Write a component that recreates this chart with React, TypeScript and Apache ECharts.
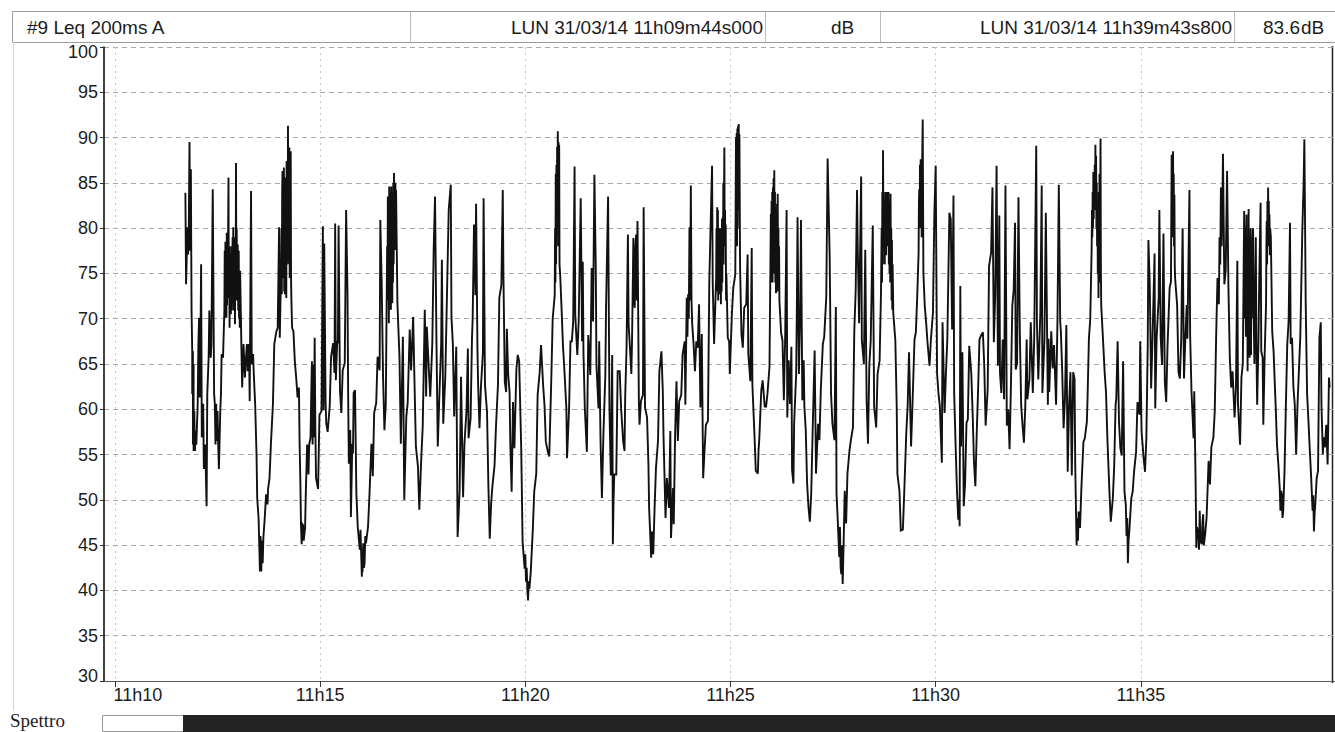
import React, { useEffect, useRef } from "react";
import * as echarts from "echarts";

// Leq 200 ms, A-weighted. Each entry: [seconds since 11:00:00, level in dB]
const seg1111: [number, number][] = [
  [703, 83.9], [704, 73.8], [706, 80.1], [707, 77.1], [708, 80.1], [709, 89.5], [710, 77.5], [711, 86.5], [712, 70.9], [713, 66.4],
  [713, 61.7], [714, 66.4], [714, 56.1], [715, 65.0], [715, 55.4], [716, 59.8], [717, 55.4], [718, 57.6], [719, 56.1], [721, 60.6],
  [722, 67.2], [723, 70.1], [724, 61.3], [725, 67.2], [726, 76.0], [727, 56.9], [729, 60.6], [730, 53.4], [732, 56.1], [734, 49.3],
  [735, 61.7], [737, 65.7], [738, 70.9], [740, 65.7], [741, 67.2], [743, 84.3], [745, 61.7], [746, 60.6], [747, 56.1], [748, 60.6],
  [749, 56.5], [750, 59.8], [751, 56.1], [752, 53.4], [754, 59.8], [755, 61.7], [756, 66.1], [758, 65.7],
  [760, 70.9], [760.5, 77.5], [761, 70.1], [761.5, 78.5], [762, 72.0], [762.5, 76.4], [763, 70.1], [763.5, 79.5], [764, 71.5], [764.5, 76.4],
  [765, 72.3], [765.5, 80.0], [766, 85.6], [766.5, 73.0], [767, 78.0], [767.6, 69.0], [768, 77.0], [768.6, 72.0], [769, 76.4], [769.5, 70.5],
  [770, 78.0], [770.5, 70.9], [771, 76.4], [771.5, 71.6], [772, 79.0], [772.5, 72.0], [773, 80.1], [773.5, 70.9], [774, 77.0], [774.5, 71.0],
  [775, 79.0], [775.5, 69.4], [776, 78.2], [776.5, 72.0], [777, 87.2], [777.5, 74.0], [778, 80.0], [778.8, 72.0], [779.5, 78.2], [780.3, 70.9],
  [781, 77.5], [781.5, 70.0], [782, 74.0], [782.5, 69.0], [783, 75.3],
  [785, 66.4], [786, 62.4], [788, 67.2], [790, 63.5], [791, 65.0], [793, 67.2], [794, 64.2], [796, 67.2], [797, 60.9],
  [799, 84.1], [800, 65.0], [802, 66.1], [803, 63.9], [805, 60.6], [807, 55.0], [808, 50.2], [810, 48.0], [811, 45.1], [812, 42.1],
  [812.5, 46.0], [813, 45.8], [813.5, 42.5], [814, 42.1], [814.5, 45.5], [815, 45.1], [816, 43.0], [817, 45.8], [819, 48.0], [821, 50.6],
  [823, 49.5], [824, 51.3], [826, 52.4], [828, 56.1],
  [831, 60.6], [833, 67.2], [836, 68.6], [838, 69.0], [840, 80.1], [841, 67.9],
  [843, 75.6], [843.5, 80.0], [844, 72.7], [844.5, 84.0], [845, 86.3], [845.5, 75.0], [846, 84.5], [846.5, 74.5], [847, 86.7], [847.5, 73.0],
  [848, 83.0], [848.5, 72.7], [849, 85.6], [849.5, 74.0], [850, 82.0], [850.5, 72.3], [851, 87.4], [851.5, 76.0], [852, 84.0], [852.5, 76.4],
  [853, 91.3], [853.5, 78.2], [854, 87.0], [854.5, 76.0], [855, 88.9], [855.5, 74.5], [856, 86.0], [856.5, 75.0], [857, 88.5], [857.5, 74.2],
  [858, 72.0], [859, 69.0], [861, 68.6], [863, 65.3], [865, 63.5], [867, 61.3], [869, 62.4], [870, 56.1], [871, 52.4],
  [872, 47.3], [873, 45.1], [873.5, 47.5], [874, 45.5], [875, 47.3], [876, 45.5], [878, 46.9], [879, 50.6], [881, 56.1], [883, 52.8], [884, 56.1], [886, 56.9],
  [887, 61.7], [888, 65.3], [889, 56.1], [890, 64.9], [891, 56.9], [892, 67.9], [893, 58.0], [894, 52.4], [897, 51.2], [899, 59.4],
  [902, 59.8],
];

const seg1115: [number, number][] = [
  [904, 80.2], [905, 59.9], [906, 78.3], [908, 60.7], [909, 58.4], [911, 57.5], [914, 60.3], [916, 65.8], [919, 67.3], [921, 64.0],
  [922, 80.5], [923, 63.2], [925, 67.6], [926, 67.3], [927, 80.3], [929, 62.1], [931, 59.6], [933, 64.3], [936, 65.1], [938, 82.0],
  [940, 72.8], [941, 61.4], [942, 54.0], [944, 57.7], [945, 48.1], [947, 56.2], [948, 55.1], [949, 61.8], [951, 62.1], [953, 50.7],
  [955, 47.0], [958, 44.5], [959, 46.7], [961, 41.5], [961.5, 44.5], [962, 42.0], [963, 45.2], [964, 42.5], [965, 43.0], [966, 46.0], [967, 45.2], [970, 47.0], [972, 50.3], [975, 56.2],
  [977, 52.6], [979, 59.6], [982, 60.7], [984, 65.8], [987, 64.3], [988, 80.9], [990, 73.9], [992, 63.6], [994, 57.7], [996, 60.7],
  [997, 69.5], [998, 78.0], [998.5, 72.0], [999, 83.5], [999.5, 72.0], [1000, 80.0], [1000.5, 69.5], [1001, 84.6], [1001.5, 73.0], [1002, 82.0],
  [1002.5, 71.0], [1003, 84.0], [1003.5, 71.0], [1004, 84.6], [1004.5, 73.0], [1005, 82.0], [1005.5, 71.7], [1006, 84.0], [1006.5, 74.0], [1007, 85.0],
  [1007.5, 76.0], [1008, 86.1], [1008.5, 79.0], [1009, 84.0], [1009.5, 77.6], [1010, 85.0], [1010.5, 78.0], [1011, 84.2], [1012, 78.0],
  [1013, 71.7], [1016, 65.8], [1018, 56.2], [1021, 68.0], [1023, 50.0], [1026, 59.2], [1028, 60.7], [1031, 68.8], [1033, 64.3], [1036, 70.2],
  [1038, 62.9], [1040, 55.9], [1043, 53.7], [1045, 48.9], [1048, 54.8], [1050, 58.1], [1053, 71.0], [1055, 61.4], [1056, 69.1], [1059, 64.3],
  [1061, 61.4], [1064, 67.3], [1066, 77.6], [1068, 83.5], [1070, 68.0], [1072, 55.9], [1074, 60.7], [1077, 67.3], [1078, 76.5], [1080, 58.4],
  [1083, 63.6], [1085, 71.0], [1088, 82.0], [1091, 84.8], [1092, 70.2], [1094, 67.3], [1096, 59.2], [1099, 66.9], [1101, 45.9], [1104, 51.1],
  [1106, 63.6], [1109, 50.3], [1111, 56.2], [1114, 59.9],
];

const seg1118: [number, number][] = [
  [1116, 66.7], [1117, 56.8], [1120, 59.0], [1122, 67.8], [1123, 70.0], [1125, 80.4], [1127, 72.6], [1128, 82.7], [1130, 66.7], [1131, 62.7],
  [1133, 57.9], [1135, 62.3], [1138, 66.3], [1139, 83.3], [1141, 62.7], [1144, 59.7], [1146, 51.6], [1148, 45.7], [1150, 49.6], [1152, 51.6],
  [1155, 53.8], [1157, 57.9], [1160, 62.7], [1162, 72.3], [1165, 73.7], [1167, 84.2], [1168, 74.8], [1170, 63.0], [1172, 61.9], [1173, 68.9],
  [1175, 63.8], [1177, 61.9], [1178, 56.4], [1180, 50.9], [1182, 60.8], [1184, 55.7], [1187, 64.5], [1189, 66.0], [1191, 65.3], [1194, 55.7],
  [1196, 45.4], [1199, 42.4], [1200, 44.0], [1201, 41.0], [1202, 42.5], [1203, 40.0], [1204, 38.9], [1205, 41.0], [1206, 40.2], [1208, 42.1], [1211, 46.8], [1213, 50.9], [1216, 52.9], [1218, 61.6],
  [1221, 64.1], [1223, 67.1], [1226, 62.7], [1228, 60.5], [1230, 56.4], [1233, 55.3], [1235, 54.8], [1238, 63.4], [1240, 70.0],
  [1243, 72.6], [1243.5, 80.0], [1244, 74.0], [1244.5, 86.0], [1245, 76.0], [1245.5, 87.0], [1246, 78.0], [1246.5, 89.0], [1247, 80.0], [1247.5, 90.7],
  [1248, 82.0], [1248.5, 89.5], [1249, 78.0], [1249.5, 89.2], [1250, 76.0], [1251, 74.8],
  [1253, 71.1], [1255, 67.1], [1257, 64.5], [1260, 60.1], [1261, 54.6], [1264, 60.1],
  [1266, 67.5], [1268, 67.5], [1270, 69.7], [1272, 86.8], [1273, 70.4], [1276, 66.0], [1278, 69.7], [1281, 83.3], [1283, 67.5], [1284, 76.3],
  [1285, 66.3], [1287, 60.1], [1290, 55.3], [1292, 68.2], [1295, 63.8], [1297, 75.6], [1299, 69.7], [1301, 85.9], [1303, 75.6], [1304, 64.9],
  [1307, 60.1], [1308, 67.5], [1310, 56.4], [1312, 50.2], [1314, 56.8], [1317, 63.8], [1318, 71.1], [1321, 83.5], [1323, 60.1], [1325, 52.7],
  [1327, 66.0],
];

const seg1122: [number, number][] = [
  [1328, 45.1], [1329, 49.9], [1330, 52.8], [1333, 52.8], [1335, 64.2], [1338, 64.2], [1340, 60.2], [1343, 56.5], [1345, 55.4], [1346, 61.3],
  [1348, 66.8], [1350, 79.3], [1351, 69.4], [1353, 66.8], [1355, 63.9], [1356, 67.5], [1358, 78.9], [1359, 72.0], [1360, 71.2], [1361, 78.0], [1362, 79.3], [1363, 72.0], [1364, 80.8],
  [1366, 60.9], [1367, 58.3], [1369, 60.9], [1372, 61.6], [1373, 82.3], [1375, 60.2], [1378, 59.1], [1380, 53.9], [1381, 49.1], [1384, 43.6],
  [1385, 46.5], [1386, 46.2], [1387, 44.0], [1389, 49.1], [1391, 53.5], [1394, 56.5], [1396, 64.2], [1399, 66.4], [1401, 62.0], [1402, 57.2], [1405, 48.0], [1407, 52.4],
  [1410, 49.1], [1412, 57.6], [1413, 45.8], [1416, 51.3], [1417, 47.3], [1419, 57.2], [1421, 63.1], [1423, 56.5], [1425, 60.9], [1428, 61.6],
  [1430, 66.1], [1433, 67.5], [1434, 60.5], [1436, 72.3], [1437, 68.0], [1438, 72.7], [1439, 70.0], [1440, 80.1], [1441, 72.0], [1442, 84.7], [1443, 72.0], [1444, 69.4], [1446, 67.2], [1448, 64.2],
  [1450, 67.5], [1452, 66.8], [1454, 71.6], [1456, 60.2], [1458, 68.3], [1460, 52.4], [1462, 55.4], [1464, 58.3], [1467, 58.7], [1469, 74.2],
  [1473, 86.9], [1474, 74.0], [1476, 67.2],
  [1479, 74.5], [1479.5, 80.0], [1480, 73.0], [1480.5, 82.3], [1481, 75.0], [1481.5, 82.0], [1482, 72.0], [1482.5, 80.0], [1483, 74.0], [1483.5, 78.0],
  [1484, 72.7], [1484.5, 80.0], [1485, 74.0], [1485.5, 79.0], [1486, 71.6], [1486.5, 80.0], [1487, 73.0], [1487.5, 81.0], [1488, 74.0], [1488.5, 81.2],
  [1489, 76.0], [1489.5, 85.0], [1490, 78.0], [1491, 88.9], [1491.5, 78.0], [1492, 82.0], [1492.5, 76.0], [1493, 80.4], [1493.5, 72.0], [1494, 74.9],
  [1496, 67.9], [1498, 67.5], [1499, 63.9], [1502, 70.5], [1504, 73.4], [1507, 74.9],
  [1508, 90.0], [1508.5, 80.0], [1509, 90.5], [1509.5, 78.0], [1510, 91.0], [1510.5, 80.0], [1511, 91.3], [1511.5, 82.0], [1512, 91.5], [1512.5, 85.0],
  [1513, 90.4], [1514, 75.6], [1516, 68.3], [1518, 66.8], [1520, 71.2], [1523, 71.6], [1525, 77.1], [1526, 66.1], [1529, 63.1], [1531, 77.8],
  [1532, 62.7], [1535, 57.2], [1537, 53.2],
];

const seg1125: [number, number][] = [
  [1540, 52.9], [1541, 55.5], [1542, 56.6], [1545, 62.1], [1547, 63.2], [1550, 60.3], [1552, 60.3], [1554, 61.7], [1557, 64.7],
  [1559, 81.6], [1559.5, 74.0], [1560, 83.0], [1560.5, 75.0], [1561, 84.0], [1561.5, 74.0], [1562, 84.5], [1562.5, 76.0], [1563, 85.5], [1563.5, 75.0],
  [1564, 86.4], [1564.5, 77.0], [1565, 84.0], [1565.5, 74.0], [1566, 80.0], [1566.5, 72.8], [1567, 82.0], [1567.5, 74.0], [1568, 82.7], [1568.5, 73.0],
  [1569, 83.8], [1569.5, 74.0], [1570, 80.0], [1570.5, 73.5], [1571, 78.0], [1571.5, 72.0], [1572, 71.3],
  [1574, 68.4], [1576, 67.6], [1578, 61.0], [1580, 68.4], [1582, 82.0], [1583, 59.1], [1585, 65.4], [1587, 60.6], [1589, 66.9], [1590, 53.3],
  [1592, 51.8], [1593, 58.4], [1596, 63.9], [1597, 71.3], [1598, 81.2], [1600, 63.9], [1602, 71.3], [1603, 80.9], [1605, 61.0], [1607, 65.4],
  [1608, 60.3], [1610, 57.7], [1612, 51.8], [1614, 49.2], [1616, 47.6], [1618, 50.7], [1620, 57.3], [1623, 66.5], [1625, 52.9], [1628, 58.4],
  [1630, 56.6], [1632, 62.1], [1635, 67.2], [1637, 68.0], [1640, 72.4], [1642, 87.7], [1645, 76.8], [1647, 61.7], [1649, 58.4], [1652, 56.6],
  [1654, 71.3], [1655, 50.7], [1657, 47.4], [1659, 43.7], [1660, 47.0], [1661, 42.5], [1662, 41.8], [1663, 45.0], [1664, 40.7], [1665, 44.0], [1667, 51.0],
  [1669, 47.4], [1671, 52.9], [1674, 55.5], [1676, 56.6], [1679, 58.0], [1681, 68.7], [1683, 73.1], [1685, 84.2], [1686, 77.9], [1688, 69.5],
  [1691, 85.7], [1692, 67.6], [1695, 65.0], [1697, 77.6], [1699, 61.0], [1701, 56.2], [1703, 65.0], [1705, 67.6], [1708, 80.3], [1710, 60.3],
  [1713, 58.0], [1715, 63.9], [1718, 65.4],
  [1720, 72.8], [1721, 80.0], [1721.5, 74.0], [1722, 84.0], [1722.5, 76.0], [1723, 88.6], [1723.5, 80.0], [1724, 84.0], [1724.5, 78.7], [1725, 83.0],
  [1725.5, 76.0], [1726, 83.0], [1726.5, 78.0], [1727, 84.0], [1727.5, 77.0], [1728, 83.0], [1728.5, 79.0], [1729, 84.0], [1729.5, 78.0], [1730, 83.5],
  [1730.5, 78.0], [1731, 84.0], [1731.5, 76.0], [1732, 83.0], [1732.5, 75.0], [1733, 82.0], [1733.5, 74.0], [1734, 83.8], [1734.5, 74.0], [1735, 80.0],
  [1735.5, 72.0], [1736, 78.7], [1736.5, 71.0], [1737, 76.0], [1738, 70.6],
  [1741, 67.6], [1743, 60.3], [1744, 52.9], [1747, 51.0], [1749, 46.6],
];

const seg1129: [number, number][] = [
  [1752, 46.7], [1754, 50.8], [1757, 57.4], [1759, 60.4], [1761, 66.3], [1764, 55.9], [1766, 60.4], [1769, 67.7], [1771, 68.5], [1773, 72.5],
  [1775, 77.3], [1775.5, 83.0], [1776, 84.3], [1776.5, 80.0], [1777, 87.0], [1777.5, 81.0], [1778, 87.6], [1778.5, 80.0], [1779, 87.6], [1779.5, 79.0],
  [1780, 86.0], [1781, 92.0], [1782, 75.1], [1784, 71.4], [1786, 69.6], [1788, 67.4], [1791, 64.8],
  [1793, 67.7], [1796, 70.7], [1798, 81.4], [1800, 86.9], [1802, 64.0], [1804, 61.8], [1806, 60.4], [1809, 54.1], [1810, 69.6], [1813, 59.6],
  [1815, 64.0], [1817, 67.7], [1820, 81.7], [1822, 81.0], [1824, 68.8], [1826, 83.6], [1827, 61.8], [1829, 56.3], [1831, 51.2], [1833, 47.8],
  [1834, 50.0], [1835, 47.1], [1836, 73.6], [1837, 55.9], [1839, 66.3], [1841, 49.3], [1843, 51.9], [1845, 58.5], [1847, 58.9], [1849, 67.0], [1852, 64.0],
  [1854, 59.6], [1856, 54.1], [1858, 51.5], [1860, 57.4], [1862, 62.2], [1864, 67.7], [1866, 68.1], [1869, 68.5], [1871, 64.8], [1873, 58.2],
  [1876, 62.2], [1878, 75.8], [1881, 77.3], [1883, 84.5], [1885, 67.4], [1887, 72.5], [1889, 86.9], [1891, 64.8], [1893, 81.4], [1894, 64.0],
  [1896, 61.8], [1898, 67.7], [1900, 61.1], [1902, 84.7], [1904, 58.2], [1906, 60.0], [1908, 55.6], [1910, 62.6], [1912, 71.4], [1914, 73.2],
  [1916, 80.6], [1917, 64.4], [1919, 65.1], [1921, 83.4], [1923, 68.5], [1925, 60.4], [1927, 58.2], [1929, 56.3], [1931, 60.4], [1933, 67.7],
  [1934, 61.1], [1937, 63.3], [1939, 69.6], [1942, 61.8], [1944, 67.7], [1947, 89.1], [1948, 69.6], [1950, 63.3], [1953, 70.7], [1955, 84.7],
  [1956, 61.8], [1959, 67.7], [1961, 81.7],
];

const seg1132: [number, number][] = [
  [1964, 60.5], [1965, 67.8], [1966, 61.9], [1969, 68.6], [1971, 64.5], [1973, 67.1], [1976, 60.5], [1978, 69.7], [1980, 84.8], [1982, 69.7],
  [1983, 68.6], [1985, 64.1], [1987, 57.9], [1989, 61.2], [1991, 69.3], [1993, 53.1], [1995, 60.5], [1997, 64.1], [1999, 52.7], [2001, 64.1],
  [2003, 63.4], [2004, 53.8], [2006, 45.0], [2007, 48.0], [2008, 45.5], [2009, 48.7], [2011, 46.9], [2013, 51.3], [2016, 56.4], [2018, 56.8], [2021, 58.6], [2022, 61.2],
  [2024, 67.8], [2026, 70.0],
  [2028, 77.8], [2028.5, 82.0], [2029, 79.0], [2029.5, 84.0], [2030, 80.0], [2030.5, 86.2], [2031, 81.0], [2031.5, 85.9], [2032, 82.0], [2032.5, 87.0],
  [2033, 83.0], [2033.5, 89.2], [2034, 82.0], [2034.5, 88.0], [2035, 80.0], [2035.5, 85.0], [2036, 78.0], [2036.5, 83.0], [2037, 75.0], [2037.5, 81.0],
  [2038, 72.3], [2038.5, 84.0], [2039, 74.0], [2039.5, 86.0], [2040, 76.0], [2041, 89.9], [2041.5, 76.0], [2042, 71.5],
  [2044, 68.6], [2047, 64.1], [2049, 61.9], [2051, 56.8], [2054, 50.9], [2056, 47.6], [2059, 50.2], [2061, 53.8], [2063, 60.5],
  [2064, 61.2], [2066, 67.5], [2068, 58.6], [2070, 55.7], [2072, 54.9], [2074, 65.3], [2076, 50.9], [2078, 49.4], [2079, 46.0], [2080, 48.0], [2081, 43.0], [2082, 45.5], [2083, 46.5],
  [2086, 50.2], [2088, 50.9], [2090, 53.1], [2093, 55.3], [2095, 60.8], [2098, 59.4], [2099, 67.5], [2101, 57.5], [2104, 54.6], [2106, 53.1],
  [2108, 56.8], [2110, 67.1], [2111, 78.7], [2113, 73.7], [2115, 62.3], [2117, 67.8], [2120, 77.2], [2121, 60.1], [2123, 67.8], [2126, 72.3],
  [2127, 82.0], [2129, 67.8], [2131, 64.9], [2133, 79.4], [2135, 63.0], [2137, 60.8], [2139, 67.1], [2142, 73.4],
  [2144, 74.1], [2144.5, 82.0], [2145, 88.1], [2145.5, 80.0], [2146, 87.0], [2146.5, 79.0], [2147, 88.5], [2147.5, 80.0], [2148, 86.0], [2148.5, 78.0],
  [2149, 83.7], [2149.5, 76.0], [2150, 74.5], [2153, 71.5], [2155, 64.1], [2157, 63.4], [2159, 67.8], [2161, 80.0], [2163, 63.4], [2165, 67.8],
  [2167, 71.5], [2168, 67.8], [2171, 84.2], [2172, 68.2], [2174, 61.9], [2177, 56.8],
];

const seg1136: [number, number][] = [
  [2178, 62.0], [2180, 52.1], [2181, 44.7], [2182, 47.0], [2184, 46.2], [2185, 44.5], [2186, 48.8], [2187, 45.5], [2189, 45.1], [2190, 47.5], [2191, 48.4], [2192, 45.0], [2194, 46.2], [2196, 48.0], [2199, 54.3],
  [2201, 51.7], [2203, 55.8], [2206, 56.9], [2208, 59.8], [2210, 67.9], [2212, 74.5], [2214, 71.6], [2215, 79.0], [2216, 76.0], [2217, 84.5], [2218, 78.0], [2219, 81.9],
  [2220, 88.2], [2222, 73.8], [2224, 75.3], [2226, 86.3], [2228, 73.4], [2230, 65.7], [2232, 62.4], [2234, 64.2], [2237, 59.1], [2239, 62.4],
  [2241, 76.4], [2242, 60.5], [2245, 56.1], [2247, 63.5], [2249, 65.0],
  [2251, 81.9], [2251.5, 70.0], [2252, 80.0], [2252.5, 71.6], [2253, 79.0], [2253.5, 68.0], [2254, 80.0], [2254.5, 81.5], [2255, 70.0], [2255.5, 78.0],
  [2256, 64.2], [2256.5, 76.0], [2257, 66.0], [2257.5, 82.1], [2258, 68.0], [2258.5, 79.0], [2259, 65.7], [2259.5, 76.0], [2260, 68.0], [2260.5, 80.0],
  [2261, 66.0], [2261.5, 75.3], [2262, 70.0], [2263, 78.0], [2264, 80.0], [2265, 70.0], [2266, 65.0], [2267, 72.0], [2268, 79.0], [2269, 66.0], [2270, 60.5],
  [2272, 67.9], [2273, 74.0], [2275, 82.8], [2276, 66.4], [2278, 65.7], [2279, 58.3], [2281, 66.1],
  [2283, 71.6], [2283.5, 78.0], [2284, 80.8], [2284.5, 76.0], [2285, 83.0], [2285.5, 78.0], [2286, 84.5], [2286.5, 79.0], [2287, 83.0], [2287.5, 78.0],
  [2288, 81.5], [2288.5, 77.0], [2289, 80.0], [2290, 79.0], [2292, 68.6], [2294, 66.4], [2296, 62.4],
  [2297, 60.5], [2299, 56.1], [2301, 53.9], [2303, 51.3], [2304, 48.8], [2305, 51.0], [2306, 50.6], [2307, 48.0], [2308, 48.6], [2310, 53.2], [2312, 60.5], [2314, 67.2],
  [2316, 69.7], [2318, 80.6], [2319, 67.2], [2321, 67.9], [2323, 62.4], [2325, 60.5], [2327, 55.0], [2329, 60.5], [2331, 64.2], [2333, 67.9],
  [2334, 71.6], [2336, 79.7], [2338, 85.2], [2339, 89.8], [2341, 71.6], [2343, 61.7], [2345, 58.7], [2347, 55.4], [2349, 52.4], [2351, 48.8],
  [2352, 50.5], [2353, 46.5], [2354, 48.5], [2355, 49.5], [2357, 52.4], [2359, 53.2], [2361, 67.9], [2363, 69.6], [2364, 60.5], [2366, 55.0], [2367, 56.9], [2369, 55.8],
  [2371, 58.3], [2373, 53.9], [2375, 63.5], [2376, 62.4],
];

// Time window and axis ticks
const windowStart = 584; // 11h09m44s000
const windowEnd = 2383.8; // 11h39m43s800
const timeTicks = [600, 900, 1200, 1500, 1800, 2100];
const levelMin = 30;
const levelMax = 100;
const levelStep = 5;

// Header fields
const channelTitle = "#9 Leq 200ms A";
const cursorStartText = "LUN 31/03/14 11h09m44s000";
const cursorEndText = "LUN 31/03/14 11h39m43s800";
const unitText = "dB";
const cursorValueText = "83.6";
const spectrumText = "Spettro";

const SANS = "'Liberation Sans', Arial, Helvetica, sans-serif";
const SERIF = "'Liberation Serif', 'Times New Roman', serif";
const INK = "#1c1c1c";

function timeLabel(v: number): string {
  const h = 11 + Math.floor(v / 3600);
  const m = Math.round((v % 3600) / 60);
  return `${h}h${String(m).padStart(2, "0")}`;
}

export default function App() {
  const ref = useRef<HTMLDivElement>(null);

  useEffect(() => {
    if (!ref.current) return;
    const chart = echarts.init(ref.current, undefined, { renderer: "svg" });
    const samples = [
      ...seg1111, ...seg1115, ...seg1118, ...seg1122,
      ...seg1125, ...seg1129, ...seg1132, ...seg1136,
    ];

    const headerY = 27;
    chart.setOption({
      animation: false,
      backgroundColor: "#ffffff",
      grid: { left: 104, right: 0, top: 47, bottom: 51, containLabel: false },
      xAxis: {
        type: "value",
        min: windowStart,
        max: windowEnd,
        axisLine: { show: true, lineStyle: { color: "#555", width: 1.2 } },
        axisTick: {
          show: true,
          customValues: timeTicks,
          length: 6,
          lineStyle: { color: "#333", width: 1 },
        },
        axisLabel: {
          customValues: timeTicks,
          margin: 5,
          color: INK,
          fontFamily: SANS,
          fontSize: 18,
          formatter: (v: number) =>
            v === timeTicks[0] ? `{first|${timeLabel(v)}}` : timeLabel(v),
          rich: {
            first: { padding: [0, 0, 0, 46], fontFamily: SANS, fontSize: 18, color: INK },
          },
        },
        splitLine: {
          show: true,
          lineStyle: { color: "#c4c4c4", type: [2, 4], width: 1 },
        },
      },
      yAxis: {
        type: "value",
        min: levelMin,
        max: levelMax,
        interval: levelStep,
        axisLine: { show: true, lineStyle: { color: "#111", width: 1.6 } },
        axisTick: { show: true, length: 4, lineStyle: { color: "#333" } },
        axisLabel: {
          margin: 6,
          color: INK,
          fontFamily: SANS,
          fontSize: 18,
          formatter: (v: number) =>
            v === levelMax ? `{top|${v}}` : v === levelMin ? `{bottom|${v}}` : String(v),
          rich: {
            top: { padding: [10, 0, 0, 0], fontFamily: SANS, fontSize: 18, color: INK },
            bottom: { padding: [0, 0, 10, 0], fontFamily: SANS, fontSize: 18, color: INK },
          },
        },
        splitLine: {
          show: true,
          lineStyle: { color: "#a8a8a8", type: [5, 4], width: 1 },
        },
      },
      series: [
        {
          type: "line",
          name: channelTitle,
          data: samples,
          showSymbol: false,
          lineStyle: { color: "#111111", width: 1.9, join: "miter", miterLimit: 2 },
          silent: true,
        },
      ],
      graphic: [
        // header band
        {
          type: "rect",
          shape: { x: 12.5, y: 11.5, width: 1330, height: 31 },
          style: { fill: "#ffffff", stroke: "#9c9c9c", lineWidth: 1 },
        },
        { type: "line", shape: { x1: 410.5, y1: 12, x2: 410.5, y2: 42 }, style: { stroke: "#bdbdbd", lineWidth: 1 } },
        { type: "line", shape: { x1: 765.5, y1: 12, x2: 765.5, y2: 42 }, style: { stroke: "#bdbdbd", lineWidth: 1 } },
        { type: "line", shape: { x1: 880.5, y1: 12, x2: 880.5, y2: 42 }, style: { stroke: "#bdbdbd", lineWidth: 1 } },
        { type: "line", shape: { x1: 1234.5, y1: 12, x2: 1234.5, y2: 42 }, style: { stroke: "#bdbdbd", lineWidth: 1 } },
        {
          type: "text", x: 27, y: headerY,
          style: { text: channelTitle, fill: INK, font: `19px ${SANS}`, textVerticalAlign: "middle", textAlign: "left" },
        },
        {
          type: "text", x: 763, y: headerY,
          style: { text: cursorStartText, fill: INK, font: `19px ${SANS}`, textVerticalAlign: "middle", textAlign: "right" },
        },
        {
          type: "text", x: 831, y: headerY,
          style: { text: unitText, fill: INK, font: `19px ${SANS}`, textVerticalAlign: "middle", textAlign: "left" },
        },
        {
          type: "text", x: 1232, y: headerY,
          style: { text: cursorEndText, fill: INK, font: `19px ${SANS}`, textVerticalAlign: "middle", textAlign: "right" },
        },
        {
          type: "text", x: 1300, y: headerY,
          style: { text: cursorValueText, fill: INK, font: `19px ${SANS}`, textVerticalAlign: "middle", textAlign: "right" },
        },
        {
          type: "text", x: 1301, y: headerY,
          style: { text: unitText, fill: INK, font: `19px ${SANS}`, textVerticalAlign: "middle", textAlign: "left" },
        },
        // frame lines
        { type: "line", shape: { x1: 13.5, y1: 42, x2: 13.5, y2: 710 }, style: { stroke: "#d2d2d2", lineWidth: 1 } },
        { type: "line", shape: { x1: 1332.5, y1: 46, x2: 1332.5, y2: 683 }, style: { stroke: "#222", lineWidth: 1.5 } },
        // spectrum strip
        {
          type: "text", x: 10, y: 730,
          style: { text: spectrumText, fill: INK, font: `19px ${SERIF}`, textVerticalAlign: "bottom", textAlign: "left" },
        },
        {
          type: "rect",
          shape: { x: 102.5, y: 715.5, width: 81, height: 16 },
          style: { fill: "#ffffff", stroke: "#9a9a9a", lineWidth: 1 },
        },
        {
          type: "rect",
          shape: { x: 183, y: 715, width: 1152, height: 17 },
          style: { fill: "#242424" },
        },
      ],
    });

    return () => chart.dispose();
  }, []);

  return (
    <div
      ref={ref}
      style={{ position: "absolute", left: 0, top: 0, width: 1335, height: 732, background: "#fff" }}
    />
  );
}
